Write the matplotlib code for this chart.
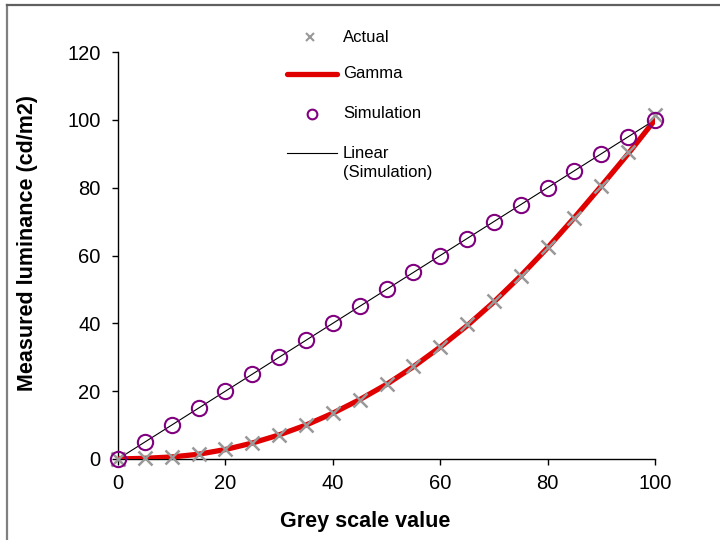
import numpy as np
import matplotlib
matplotlib.use("Agg")
import matplotlib.pyplot as plt
from matplotlib.lines import Line2D

plt.rcParams.update({
    "font.family": ["Liberation Sans", "DejaVu Sans"],
})

# ── Data ──────────────────────────────────────────────────────────────────────
grey = [0, 5, 10, 15, 20, 25, 30, 35, 40, 45, 50,
        55, 60, 65, 70, 75, 80, 85, 90, 95, 100]
actual = [0, 0.3, 0.7, 1.5, 2.9, 4.7, 7.0, 10.0, 13.5, 17.5, 22.0,
          27.5, 33.0, 39.8, 46.5, 54.0, 62.5, 71.0, 80.5, 90.5, 101.5]
gamma = [0, 0.2, 0.6, 1.4, 2.8, 4.7, 7.1, 10.0, 13.5, 17.5, 22.0,
         27.2, 33.0, 39.3, 46.3, 54.0, 62.3, 71.2, 80.5, 90.0, 100.0]
simulation = [0, 5, 10, 15, 20, 25, 30, 35, 40, 45, 50,
              55, 60, 65, 70, 75, 80, 85, 90, 95, 100]

xticks = [0, 20, 40, 60, 80, 100]
yticks = [0, 20, 40, 60, 80, 100, 120]

W, H = 720, 540


def fx(px):
    return px / W


def fy(py):
    return 1 - py / H


# ── Figure ────────────────────────────────────────────────────────────────────
fig = plt.figure(figsize=(7.2, 5.4), dpi=100)
ax = fig.add_axes([fx(118), fy(459), 537 / W, 407 / H])

# linear trendline fitted to the simulation series
slope, icept = np.polyfit(grey, simulation, 1)
xs = np.array([grey[0], grey[-1]])

ax.plot(grey, actual, linestyle="none", marker="x", markersize=10,
        markeredgewidth=1.8, color="#999999", clip_on=False, zorder=4)
ax.plot(grey, gamma, color="#E00000", linewidth=3.8,
        solid_capstyle="round", solid_joinstyle="round", zorder=3)
ax.plot(grey, simulation, linestyle="none", marker="o", markersize=11,
        markerfacecolor="none", markeredgecolor="#800080",
        markeredgewidth=1.5, clip_on=False, zorder=5)
ax.plot(xs, slope * xs + icept, color="black", linewidth=0.8, zorder=2)

ax.set_xlim(0, 100)
ax.set_ylim(0, 120)
ax.set_xticks(xticks)
ax.set_yticks(yticks)
ax.tick_params(direction="out", length=4.5, width=1, labelsize=14.5,
               colors="black")
ax.tick_params(axis="y", pad=8)
ax.tick_params(axis="x", pad=6)
for side in ("top", "right"):
    ax.spines[side].set_visible(False)
for side in ("left", "bottom"):
    ax.spines[side].set_color("black")
    ax.spines[side].set_linewidth(1)

fig.text(fx(365), fy(522), "Grey scale value", fontsize=15.5,
         fontweight="bold", ha="center", va="center")
fig.text(fx(28), fy(243), "Measured luminance (cd/m2)", fontsize=15.5,
         fontweight="bold", ha="center", va="center", rotation=90)

# ── Legend (drawn by hand to match the original layout) ──────────────────────
tx = fx(343)
fig.add_artist(Line2D([fx(310)], [fy(37)], transform=fig.transFigure,
                      linestyle="none", marker="x", markersize=6,
                      markeredgewidth=1.5, color="#999999"))
fig.text(tx, fy(37), "Actual", fontsize=12, va="center")

fig.add_artist(Line2D([fx(287), fx(337)], [fy(74), fy(74)],
                      transform=fig.transFigure, color="#E00000",
                      linewidth=3.8, solid_capstyle="round"))
fig.text(tx, fy(74), "Gamma", fontsize=12, va="center")

fig.add_artist(Line2D([fx(312)], [fy(114)], transform=fig.transFigure,
                      linestyle="none", marker="o", markersize=7,
                      markerfacecolor="none", markeredgecolor="#800080",
                      markeredgewidth=1.5))
fig.text(tx, fy(114), "Simulation", fontsize=12, va="center")

fig.add_artist(Line2D([fx(287), fx(337)], [fy(153), fy(153)],
                      transform=fig.transFigure, color="black", linewidth=0.8))
fig.text(tx, fy(153), "Linear", fontsize=12, va="center")
fig.text(tx, fy(172), "(Simulation)", fontsize=12, va="center")

# outer frame lines (left and top)
fig.add_artist(Line2D([fx(7), fx(7)], [0, fy(5)],
                      transform=fig.transFigure, color="#808080", linewidth=1.6))
fig.add_artist(Line2D([fx(7), 1], [fy(5), fy(5)],
                      transform=fig.transFigure, color="#606060", linewidth=1.6))

fig.savefig("out.png", dpi=100)
